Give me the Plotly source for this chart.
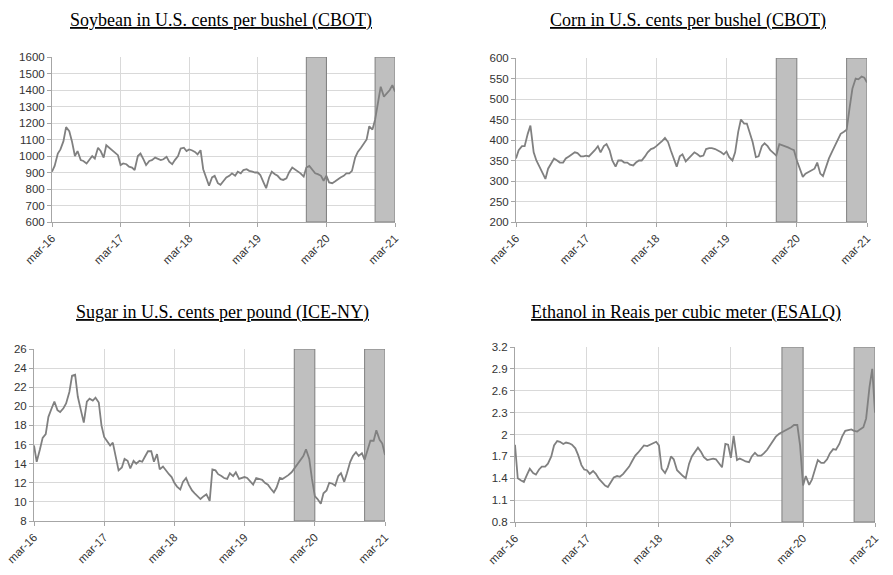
import plotly.graph_objects as go
import pandas as pd

# semi-monthly sampling dates, Mar 2016 - Mar 2021
dates = pd.date_range("2016-03-01", periods=121, freq="SMS")

tick_dates = ["2016-03-01", "2017-03-01", "2018-03-01", "2019-03-01", "2020-03-01", "2021-03-01"]
tick_labels = ["mar-16", "mar-17", "mar-18", "mar-19", "mar-20", "mar-21"]

shade_start = ["2019-11-15", "2020-11-15"]
shade_end = ["2020-03-01", "2021-03-01"]

soybean = [905, 940, 1015, 1040, 1090, 1175, 1150, 1090, 1000, 1030, 975, 970, 955, 975, 1000, 985,
           1050, 1030, 990, 1065, 1050, 1035, 1020, 1005, 945, 955, 950, 935, 930, 915, 1000, 1015,
           980, 945, 970, 975, 990, 985, 975, 980, 995, 965, 950, 975, 1000, 1045, 1050, 1030,
           1040, 1035, 1025, 1010, 1035, 920, 860, 820, 870, 880, 835, 825, 850, 870, 880, 895,
           880, 905, 895, 915, 920, 910, 905, 900, 900, 885, 840, 805, 870, 905, 890, 880,
           860, 855, 865, 900, 930, 920, 910, 895, 875, 930, 940, 920, 895, 890, 880, 850,
           880, 840, 835, 845, 860, 870, 880, 895, 895, 910, 990, 1025, 1050, 1070, 1100, 1180,
           1160, 1220, 1320, 1420, 1360, 1380, 1400, 1430, 1390]

corn = [355, 375, 385, 385, 415, 435, 370, 350, 335, 320, 305, 330, 345, 355, 350, 345,
        345, 355, 360, 365, 370, 368, 360, 360, 362, 360, 368, 375, 385, 370, 385, 390,
        375, 350, 335, 350, 350, 345, 345, 340, 338, 345, 350, 350, 360, 370, 378, 380,
        385, 390, 398, 405, 395, 375, 350, 335, 360, 365, 348, 355, 365, 370, 365, 360,
        362, 378, 380, 380, 378, 375, 370, 365, 372, 358, 350, 370, 420, 450, 440, 440,
        415, 395, 358, 360, 385, 392, 385, 375, 368, 362, 390, 388, 385, 382, 378, 375,
        350, 330, 310, 318, 322, 325, 330, 345, 318, 312, 335, 355, 372, 385, 400, 415,
        420, 425, 480, 525, 550, 548, 555, 552, 540]

sugar = [15.9, 14.2, 15.5, 16.7, 17.1, 18.9, 19.8, 20.5, 19.6, 19.4, 19.8, 20.3, 21.5, 23.2, 23.3, 21.0,
         19.5, 18.3, 20.5, 20.8, 20.6, 20.9, 20.4, 18.0, 16.8, 16.4, 15.9, 16.2, 14.8, 13.3, 13.6, 14.5,
         14.3, 13.5, 14.3, 14.0, 14.3, 14.2, 14.8, 15.3, 15.3, 14.2, 15.0, 13.4, 13.7, 13.3, 12.9, 12.6,
         12.0, 11.6, 11.3, 12.1, 12.5, 11.8, 11.2, 10.9, 10.6, 10.3, 10.6, 10.8, 10.1, 13.4, 13.3, 12.9,
         12.7, 12.5, 12.4, 13.0, 12.7, 13.1, 12.4, 12.5, 12.6, 12.5, 12.1, 11.8, 12.5, 12.4, 12.3, 12.0,
         11.8, 11.4, 11.0, 11.5, 12.5, 12.4, 12.6, 12.8, 13.1, 13.5, 13.9, 14.3, 14.8, 15.5, 14.5, 12.4,
         10.6, 10.3, 9.8, 10.9, 11.2, 12.0, 11.9, 11.7, 12.7, 13.0, 12.1, 13.0, 14.2, 14.8, 15.2, 14.8,
         15.1, 14.4, 15.6, 16.4, 16.4, 17.5, 16.5, 16.1, 14.9]

ethanol = [1.86, 1.40, 1.37, 1.35, 1.45, 1.53, 1.47, 1.45, 1.52, 1.56, 1.56, 1.60, 1.70, 1.85, 1.91, 1.90,
           1.87, 1.89, 1.88, 1.86, 1.81, 1.72, 1.58, 1.52, 1.51, 1.46, 1.50, 1.46, 1.39, 1.35, 1.30, 1.28,
           1.35, 1.41, 1.43, 1.42, 1.46, 1.50, 1.56, 1.63, 1.71, 1.75, 1.80, 1.85, 1.84, 1.86, 1.88, 1.90,
           1.85, 1.53, 1.47, 1.55, 1.70, 1.66, 1.51, 1.47, 1.43, 1.40, 1.60, 1.70, 1.76, 1.82, 1.76, 1.69,
           1.65, 1.66, 1.67, 1.66, 1.60, 1.55, 1.87, 1.86, 1.68, 1.98, 1.65, 1.67, 1.65, 1.63, 1.62, 1.70,
           1.75, 1.71, 1.71, 1.74, 1.79, 1.85, 1.90, 1.97, 2.01, 2.03, 2.06, 2.08, 2.10, 2.13, 2.13, 1.85,
           1.30, 1.43, 1.31, 1.38, 1.52, 1.65, 1.61, 1.61, 1.66, 1.74, 1.80, 1.79, 1.87, 1.97, 2.05, 2.06,
           2.07, 2.05, 2.04, 2.07, 2.10, 2.22, 2.65, 2.90, 2.30]

titles = ["Soybean in U.S. cents per bushel (CBOT)", "Corn in U.S. cents per bushel (CBOT)",
          "Sugar in U.S. cents per pound (ICE-NY)", "Ethanol in Reais per cubic meter (ESALQ)"]
y_ranges = [[600, 1600], [200, 600], [8, 26], [0.8, 3.2]]
y_dticks = [100, 50, 2, 0.3]
series = [soybean, corn, sugar, ethanol]

W, H = 893, 575
# plot areas in page pixels: (left, right, top, bottom)
areas = [(52, 395, 57, 222), (516, 867, 58, 222), (34, 385, 349, 521), (515, 875, 347, 522)]
title_pos = [(221, 21), (688, 21), (222, 312), (686, 312)]

fig = go.Figure()
LINE = "#808080"
GRID = "#d9d9d9"
TICKFONT = dict(family="Liberation Sans", size=11.5, color="#333333")
for k in range(4):
    xa = "x" if k == 0 else f"x{k+1}"
    ya = "y" if k == 0 else f"y{k+1}"
    lo, hi = y_ranges[k]
    for s0, s1 in zip(shade_start, shade_end):
        fig.add_trace(go.Scatter(x=[s0, s0, s1, s1, s0], y=[lo, hi, hi, lo, lo],
                                 mode="lines", fill="toself", fillcolor="#bfbfbf",
                                 line=dict(color="#7f7f7f", width=1), xaxis=xa, yaxis=ya,
                                 showlegend=False, hoverinfo="skip"))
    fig.add_trace(go.Scatter(x=dates, y=series[k], mode="lines",
                             line=dict(color=LINE, width=1.8), xaxis=xa, yaxis=ya,
                             showlegend=False, hoverinfo="x+y"))
    l, r, t, b = areas[k]
    suffix = "" if k == 0 else str(k + 1)
    fig.layout["xaxis" + suffix] = dict(
        domain=[l / W, r / W], anchor=ya, type="date", automargin=False,
        range=[tick_dates[0], tick_dates[-1]],
        tickmode="array", tickvals=tick_dates, ticktext=tick_labels, tickangle=-45,
        showgrid=True, gridcolor=GRID, gridwidth=1,
        showline=True, linecolor="#a6a6a6", ticks="outside", ticklen=4, tickcolor="#a6a6a6",
        tickfont=TICKFONT, zeroline=False, fixedrange=True)
    fig.layout["yaxis" + suffix] = dict(
        domain=[1 - b / H, 1 - t / H], anchor=xa, automargin=False,
        range=y_ranges[k], tick0=lo, dtick=y_dticks[k],
        showgrid=True, gridcolor=GRID, gridwidth=1,
        showline=True, linecolor="#a6a6a6", ticks="outside", ticklen=4, tickcolor="#a6a6a6",
        tickfont=TICKFONT, zeroline=False, fixedrange=True)
    tx, ty = title_pos[k]
    fig.add_annotation(text=f"<u>{titles[k]}</u>", xref="paper", yref="paper",
                       x=tx / W, y=1 - ty / H, xanchor="center", yanchor="middle",
                       showarrow=False, font=dict(family="Liberation Serif", size=18, color="#000000"))

fig.update_layout(width=W, height=H, margin=dict(l=0, r=0, t=0, b=0),
                  paper_bgcolor="white", plot_bgcolor="white")
fig.write_html("out.html", config={"displayModeBar": False},
               post_script="document.body.style.margin='0px';")
